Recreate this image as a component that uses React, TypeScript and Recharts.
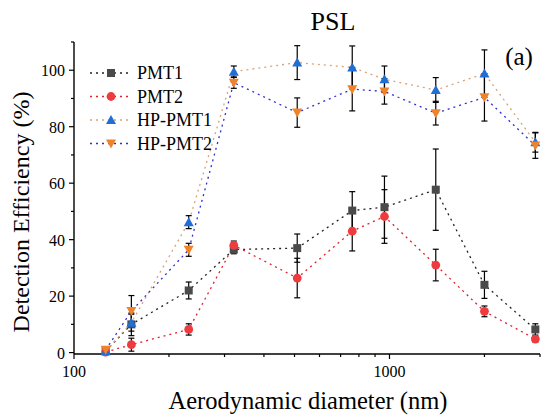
import React from "react";
import { LineChart, Line, XAxis, YAxis, ErrorBar } from "recharts";

// particle size (nm)
const diameters = [126, 152, 231, 321, 510, 762, 964, 1402, 2000, 2900];

const pmt1 = [0.5, 10, 22, 36.5, 37, 50.3, 51.5, 57.7, 24, 8.2];
const pmt1Err = [1, 4, 3, 1.5, 5, 6.7, 11, 14.4, 4.8, 2];
const pmt2 = [0.2, 2.8, 8.2, 38, 26.4, 43, 48.2, 31, 14.6, 4.8];
const pmt2Err = [0.5, 2.3, 2, 1.5, 7, 7, 9.5, 5.6, 1.9, 1];
const hpPmt1 = [0.5, 10.6, 46.2, 99.5, 102.7, 101, 96.8, 93, 98.8, 74.5];
const hpPmt1Err = [1, 3, 2.3, 2, 6, 7.6, 4.7, 4.4, 8.4, 3.5];
const hpPmt2 = [1, 14.7, 36.4, 95.6, 85, 93.3, 92.5, 84.8, 90.4, 73.3];
const hpPmt2Err = [1, 5.5, 2.3, 2, 5.2, 7.7, 4.5, 4.2, 8.4, 4.5];

const xTicks = [100, 200, 300, 400, 500, 600, 700, 800, 900, 1000, 2000, 3000];
const xLabels = [100, 1000];
const yTicks = [0, 10, 20, 30, 40, 50, 60, 70, 80, 90, 100, 110];
const yLabels = [0, 20, 40, 60, 80, 100];

const data = diameters.map((d, i) => ({
  d,
  pmt1: pmt1[i],
  pmt1Err: pmt1Err[i],
  pmt2: pmt2[i],
  pmt2Err: pmt2Err[i],
  hp1: hpPmt1[i],
  hp1Err: hpPmt1Err[i],
  hp2: hpPmt2[i],
  hp2Err: hpPmt2Err[i],
}));

const FONT = '"Liberation Serif", "Times New Roman", serif';

type MarkerKind = "square" | "circle" | "up" | "down";

function Marker({ kind, cx, cy, fill }: { kind: MarkerKind; cx: number; cy: number; fill: string }) {
  if (cx == null || cy == null) return null;
  if (kind === "square") return <rect x={cx - 4} y={cy - 4} width={8} height={8} fill={fill} />;
  if (kind === "circle") return <circle cx={cx} cy={cy} r={4.4} fill={fill} />;
  if (kind === "up")
    return <path d={`M${cx},${cy - 5} L${cx + 5},${cy + 4} L${cx - 5},${cy + 4} Z`} fill={fill} />;
  return <path d={`M${cx},${cy + 5} L${cx + 5},${cy - 4} L${cx - 5},${cy - 4} Z`} fill={fill} />;
}

const series = [
  { key: "pmt1", err: "pmt1Err", name: "PMT1", line: "#222222", fill: "#4a4a4a", kind: "square" as MarkerKind },
  { key: "pmt2", err: "pmt2Err", name: "PMT2", line: "#e0202a", fill: "#ee3b3f", kind: "circle" as MarkerKind },
  { key: "hp1", err: "hp1Err", name: "HP-PMT1", line: "#d6a37a", fill: "#1f6fd6", kind: "up" as MarkerKind },
  { key: "hp2", err: "hp2Err", name: "HP-PMT2", line: "#2f2fcf", fill: "#f08229", kind: "down" as MarkerKind },
];

function XTick(props: any) {
  const { x, y, payload } = props;
  const major = xLabels.includes(payload.value);
  return (
    <g>
      <line x1={x} x2={x} y1={y} y2={y + (major ? 5 : 3)} stroke="#000" strokeWidth={1.2} />
      {major && (
        <text x={x} y={y + 23} textAnchor="middle" fontFamily={FONT} fontSize={16} fill="#000">
          {payload.value}
        </text>
      )}
    </g>
  );
}

function YTick(props: any) {
  const { x, y, payload } = props;
  const major = yLabels.includes(payload.value);
  return (
    <g>
      <line x1={x - (major ? 5 : 3)} x2={x} y1={y} y2={y} stroke="#000" strokeWidth={1.2} />
      {major && (
        <text x={x - 9} y={y + 6} textAnchor="end" fontFamily={FONT} fontSize={16} fill="#000">
          {payload.value}
        </text>
      )}
    </g>
  );
}

export default function App() {
  return (
    <div style={{ position: "absolute", left: 0, top: 0, width: 544, height: 416, background: "#fff" }}>
      <LineChart width={544} height={416} data={data} margin={{ top: 42, right: 4, bottom: 42, left: 54 }}>
        <XAxis
          dataKey="d"
          type="number"
          scale="log"
          domain={[100, 3000]}
          ticks={xTicks}
          interval={0}
          height={20}
          tickSize={0}
          tickMargin={0}
          tickLine={false}
          axisLine={{ stroke: "#000", strokeWidth: 1.4 }}
          tick={(p: any) => <XTick {...p} />}
        />
        <YAxis
          type="number"
          domain={[0, 110]}
          ticks={yTicks}
          interval={0}
          width={20}
          tickSize={0}
          tickMargin={0}
          tickLine={false}
          axisLine={{ stroke: "#000", strokeWidth: 1.4 }}
          tick={(p: any) => <YTick {...p} />}
        />
        {series.map((s) => (
          <Line
            key={s.key}
            dataKey={s.key}
            type="linear"
            stroke={s.line}
            strokeWidth={1.3}
            strokeDasharray="2 4"
            isAnimationActive={false}
            dot={(p: any) => <Marker key={`${s.key}-${p.index}`} kind={s.kind} cx={p.cx} cy={p.cy} fill={s.fill} />}
            activeDot={false}
          >
            <ErrorBar dataKey={s.err} direction="y" width={3} stroke="#000" strokeWidth={1.2} isAnimationActive={false} />
          </Line>
        ))}
      </LineChart>

      <svg width={544} height={416} style={{ position: "absolute", left: 0, top: 0, pointerEvents: "none" }}>
        <text x={333} y={30} textAnchor="middle" fontFamily={FONT} fontSize={26} fill="#000">
          PSL
        </text>
        <text x={519} y={65} textAnchor="middle" fontFamily={FONT} fontSize={25} fill="#000">
          (a)
        </text>
        <text x={308} y={409} textAnchor="middle" fontFamily={FONT} fontSize={24.5} fill="#000">
          Aerodynamic diameter (nm)
        </text>
        <text
          x={0}
          y={0}
          transform="translate(29,212) rotate(-90)"
          textAnchor="middle"
          fontFamily={FONT}
          fontSize={24}
          fill="#000"
        >
          Detection Efficiency (%)
        </text>
        {series.map((s, i) => {
          const y = 73 + i * 23.5;
          return (
            <g key={s.key}>
              <line x1={90} x2={129} y1={y} y2={y} stroke={s.line} strokeWidth={1.3} strokeDasharray="2 4" />
              <Marker kind={s.kind} cx={111} cy={y} fill={s.fill} />
              <text x={137} y={y + 6} fontFamily={FONT} fontSize={18} fill="#000">
                {s.name}
              </text>
            </g>
          );
        })}
      </svg>
    </div>
  );
}
